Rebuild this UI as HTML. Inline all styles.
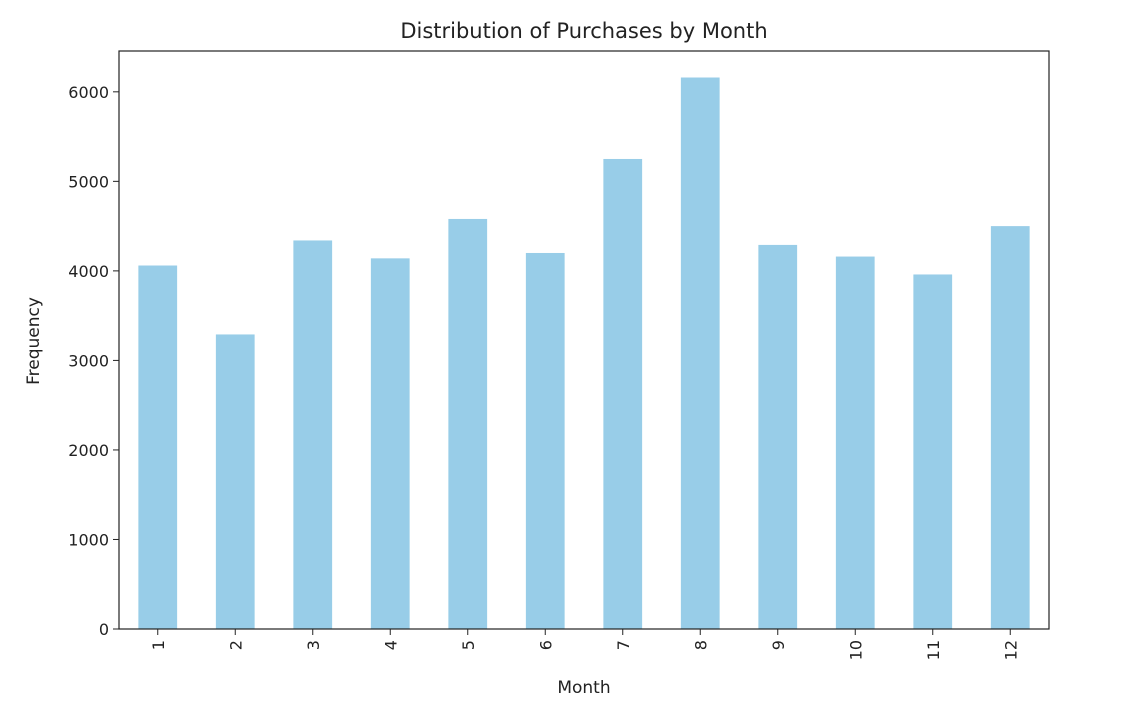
<!DOCTYPE html>
<html><head><meta charset="utf-8"><style>
body{margin:0;background:#fff;}
svg{display:block;font-family:"DejaVu Sans","Liberation Sans",sans-serif;}
</style></head><body>
<svg id="chart" width="1124" height="708">
<text x="584" y="38" text-anchor="middle" font-size="21" fill="#222">Distribution of Purchases by Month</text>
<text x="584" y="693" text-anchor="middle" font-size="17" fill="#222">Month</text>
<text transform="translate(39,341) rotate(-90)" text-anchor="middle" font-size="17" fill="#222">Frequency</text>
<g id="bars"></g><g id="axes"></g>
</svg>
<script>
const categories=["1","2","3","4","5","6","7","8","9","10","11","12"];
const values=[4060,3290,4340,4140,4580,4200,5250,6160,4290,4160,3960,4500];
const yTicks=[0,1000,2000,3000,4000,5000,6000];
const L=119,R=1049,T=51,B=629,yMax=6456;
const ns="http://www.w3.org/2000/svg";
function y(v){return B-(v/yMax)*(B-T);}
const slot=(R-L)/categories.length;
function xc(i){return L+slot*(i+0.5);}
const bars=document.getElementById('bars'),axes=document.getElementById('axes');
function mk(t,a,p){const e=document.createElementNS(ns,t);for(const k in a)e.setAttribute(k,a[k]);p.appendChild(e);return e;}
values.forEach((v,i)=>{
 const r=mk('rect',{x:xc(i)-slot*0.25,y:y(v),width:slot*0.5,height:B-y(v),fill:'#98cde8'},bars);
 
 
 mk('line',{x1:xc(i),x2:xc(i),y1:B,y2:B+6,stroke:'#222','stroke-width':1},axes);
 const t=mk('text',{transform:`translate(${xc(i)+6},${B+11}) rotate(-90)`,'text-anchor':'end','font-size':16,fill:'#222'},axes);
 t.textContent=categories[i];
 
 
});
yTicks.forEach(v=>{
 mk('line',{x1:L-6,x2:L,y1:y(v),y2:y(v),stroke:'#222','stroke-width':1},axes);
 const t=mk('text',{x:L-10,y:y(v)+6,'text-anchor':'end','font-size':16,fill:'#222'},axes);
 t.textContent=v;
 
 
});
const f=mk('rect',{x:L,y:T,width:R-L,height:B-T,fill:'none',stroke:'#222','stroke-width':1.2},axes);


</script>
</body></html>
